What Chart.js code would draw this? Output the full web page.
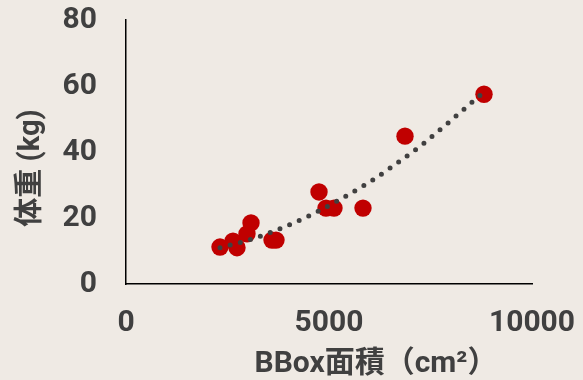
<!DOCTYPE html>
<html>
<head>
<meta charset="utf-8">
<script src="https://cdn.jsdelivr.net/npm/chart.js@4/dist/chart.umd.min.js"></script>
<style>
  html, body { margin: 0; padding: 0; background: #efeae4; }
  #wrap { width: 583px; height: 380px; }
</style>
</head>
<body>
<div id="wrap"><canvas id="c" width="583" height="380"></canvas></div>
<script>
// BBox area (cm²) vs body weight (kg)
const areaX   = [2315, 2635, 2734, 2980, 3079, 3596, 3695, 4754, 4926, 5123, 5837, 6872, 8818];
const weightY = [11.2, 13.0, 11.0, 15.2, 18.5, 13.3, 13.3, 27.9, 23.0, 23.0, 23.0, 44.8, 57.5];

// trendline
const trendX = [2315, 3100, 3842, 4600, 5296, 6000, 6650, 7300, 7931, 8818];
const trendY = [11.0, 13.6, 17.0, 21.2, 25.8, 30.9, 36.4, 42.3, 48.8, 58.2];

const xTicks = [0, 5000, 10000];
const yTicks = [0, 20, 40, 60, 80];

const xTitle = 'BBox面積（cm²）';
const yTitle = '体重 (kg)';

const textColor = '#404040';
const fontFamily = "Roboto, 'Noto Sans CJK JP', sans-serif";

const toPoints = (xs, ys) => xs.map((x, i) => ({ x, y: ys[i] }));

// axis titles drawn by hand so they sit where the original puts them
const axisTitles = {
  id: 'axisTitles',
  afterDraw(chart) {
    const c = chart.ctx;
    c.save();
    c.fillStyle = textColor;
    c.textAlign = 'center';
    c.font = 'bold 30px ' + fontFamily;
    c.textBaseline = 'alphabetic';
    c.fillText(xTitle, 376, 372);
    c.font = 'bold 29px ' + fontFamily;
    c.translate(32, 168);
    c.rotate(-Math.PI / 2);
    c.textBaseline = 'middle';
    c.fillText(yTitle, 0, 0);
    c.restore();
  }
};

// invisible tick marks give the label gap without adding overflow padding
const hiddenGrid = len => ({
  display: true,
  drawOnChartArea: false,
  drawTicks: true,
  tickLength: len,
  color: 'rgba(0,0,0,0)'
});

new Chart(document.getElementById('c'), {
  type: 'scatter',
  data: {
    datasets: [
      {
        label: 'trend',
        data: toPoints(trendX, trendY),
        showLine: true,
        order: 0,
        borderColor: '#404040',
        borderWidth: 5,
        borderDash: [0, 10.5],
        borderCapStyle: 'round',
        cubicInterpolationMode: 'monotone',
        pointRadius: 0,
        fill: false
      },
      {
        label: 'data',
        data: toPoints(areaX, weightY),
        order: 1,
        backgroundColor: '#c00000',
        borderColor: '#c00000',
        borderWidth: 0,
        pointRadius: 8.7
      }
    ]
  },
  options: {
    responsive: false,
    animation: false,
    layout: { padding: { top: 20, right: 51, left: 0, bottom: 0 } },
    plugins: { legend: { display: false }, tooltip: { enabled: false } },
    scales: {
      x: {
        type: 'linear',
        min: 0, max: 10000,
        afterBuildTicks: s => { s.ticks = xTicks.map(v => ({ value: v })); },
        afterFit: s => { s.height = 96; },
        grid: hiddenGrid(21),
        border: { display: true, color: '#000', width: 1.5 },
        ticks: {
          color: textColor,
          padding: 0,
          maxRotation: 0,
          callback: v => String(v),
          font: { family: fontFamily, size: 30, weight: 'bold' }
        }
      },
      y: {
        type: 'linear',
        min: 0, max: 80,
        afterBuildTicks: s => { s.ticks = yTicks.map(v => ({ value: v })); },
        afterFit: s => { s.width = 126; },
        grid: hiddenGrid(29),
        border: { display: true, color: '#000', width: 1.5 },
        ticks: {
          color: textColor,
          padding: 0,
          callback: v => String(v),
          font: { family: fontFamily, size: 30, weight: 'bold' }
        }
      }
    }
  },
  plugins: [axisTitles]
});
</script>
</body>
</html>
